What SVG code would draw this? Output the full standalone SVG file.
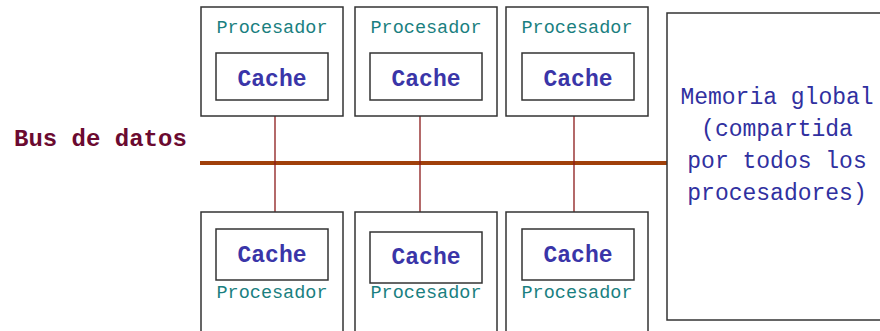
<svg xmlns="http://www.w3.org/2000/svg" width="880" height="331" viewBox="0 0 880 331">
<style>
.box{fill:#fff;stroke:#333;stroke-width:1.5}
.proc{font-family:"Liberation Mono",monospace;font-size:18.5px;fill:#1a7f80;text-anchor:middle}
.cache{font-family:"Liberation Mono",monospace;font-size:23px;font-weight:bold;fill:#3a35a8;text-anchor:middle}
.mem{font-family:"Liberation Mono",monospace;font-size:23px;fill:#3030a0;text-anchor:middle}
.bus{font-family:"Liberation Mono",monospace;font-size:24px;font-weight:bold;fill:#6b0a30}
.link{stroke:#8b1a1a;stroke-width:1.3}
</style>
<rect width="880" height="331" fill="#fff"/>
<g id="connectors">
<line x1="200" y1="163" x2="667" y2="163" stroke="#a0400a" stroke-width="4"/>
<line class="link" x1="275" y1="116" x2="275" y2="212"/>
<line class="link" x1="420" y1="116" x2="420" y2="212"/>
<line class="link" x1="574" y1="116" x2="574" y2="212"/>
</g>
<g id="bus-label"><text class="bus" x="14" y="146">Bus de datos</text></g>
<g id="p1">
<rect class="box" x="201" y="7" width="142" height="109"/>
<text class="proc" x="272" y="33">Procesador</text>
<rect class="box" x="216" y="53" width="112" height="47"/>
<text class="cache" x="272" y="86">Cache</text>
</g>
<g id="p2">
<rect class="box" x="355" y="7" width="142" height="109"/>
<text class="proc" x="426" y="33">Procesador</text>
<rect class="box" x="370" y="53" width="112" height="47"/>
<text class="cache" x="426" y="86">Cache</text>
</g>
<g id="p3">
<rect class="box" x="506" y="7" width="142" height="109"/>
<text class="proc" x="577" y="33">Procesador</text>
<rect class="box" x="522" y="53" width="112" height="47"/>
<text class="cache" x="578" y="86">Cache</text>
</g>
<g id="p4">
<rect class="box" x="201" y="212" width="142" height="125"/>
<rect class="box" x="216" y="229" width="112" height="51"/>
<text class="cache" x="272" y="262">Cache</text>
<text class="proc" x="272" y="298">Procesador</text>
</g>
<g id="p5">
<rect class="box" x="355" y="212" width="142" height="125"/>
<rect class="box" x="370" y="232" width="112" height="51"/>
<text class="cache" x="426" y="264">Cache</text>
<text class="proc" x="426" y="298">Procesador</text>
</g>
<g id="p6">
<rect class="box" x="506" y="212" width="142" height="125"/>
<rect class="box" x="522" y="229" width="112" height="51"/>
<text class="cache" x="578" y="262">Cache</text>
<text class="proc" x="577" y="298">Procesador</text>
</g>
<g id="memoria">
<rect class="box" x="667" y="13" width="230" height="307"/>
<text class="mem" x="777" y="104">Memoria global</text>
<text class="mem" x="777" y="136">(compartida</text>
<text class="mem" x="777" y="168">por todos los</text>
<text class="mem" x="777" y="200">procesadores)</text>
</g>
</svg>
